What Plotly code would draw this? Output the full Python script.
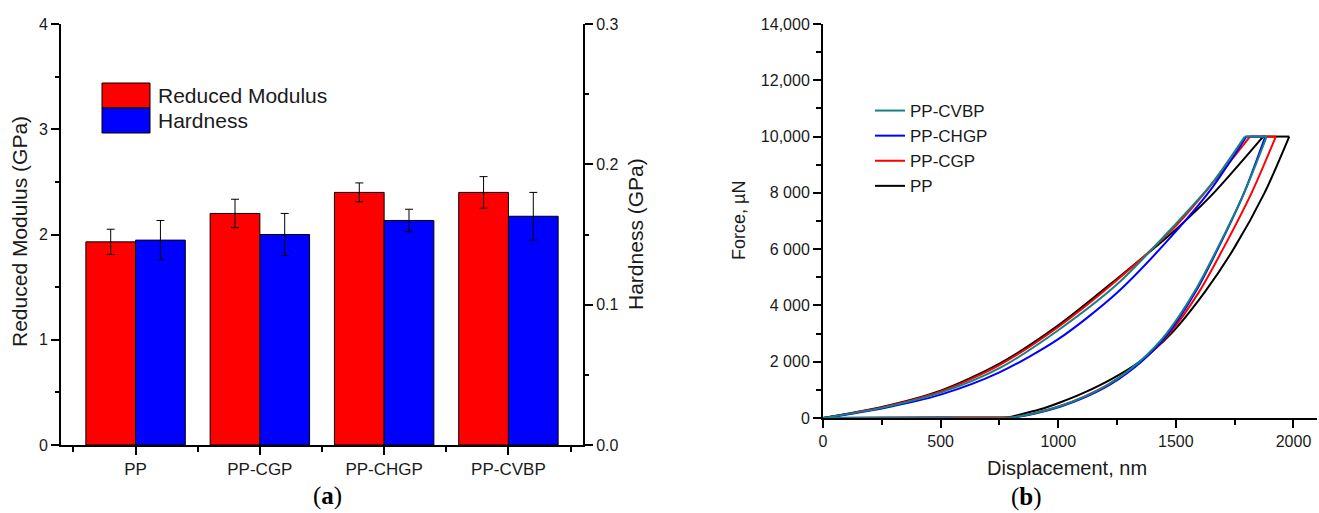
import plotly.graph_objects as go

# ---------------- data ----------------
# (a) nanoindentation results per sample
categories = ["PP", "PP-CGP", "PP-CHGP", "PP-CVBP"]
reduced_modulus = [1.93, 2.20, 2.40, 2.40]          # GPa
reduced_modulus_err = [0.12, 0.135, 0.09, 0.15]
hardness = [0.146, 0.150, 0.160, 0.163]             # GPa
hardness_err = [0.014, 0.015, 0.008, 0.017]

# (b) load–displacement curves (displacement nm, force µN)
pp_load_d = [0, 250, 500, 750, 1000, 1250, 1500, 1650, 1871]
pp_load_f = [0, 390, 970, 1930, 3290, 4950, 6700, 7900, 10000]
pp_unload_d = [1982, 1877, 1745, 1625, 1480, 1345, 1230, 1110, 1010, 920, 835, 785, 500, 250, 0]
pp_unload_f = [10000, 8000, 6000, 4500, 3000, 2000, 1400, 900, 560, 300, 120, 30, 12, 5, 0]

cgp_load_d = [0, 250, 500, 750, 1000, 1250, 1500, 1650, 1815]
cgp_load_f = [0, 370, 940, 1880, 3235, 4900, 6830, 8280, 10000]
cgp_unload_d = [1925, 1822, 1700, 1600, 1472, 1350, 1215, 1108, 998, 888, 818, 790, 600, 300, 0]
cgp_unload_f = [10000, 8000, 6000, 4500, 3000, 2000, 1200, 750, 400, 150, 40, 30, 25, 12, 0]

chgp_load_d = [0, 250, 500, 750, 1000, 1250, 1500, 1650, 1800]
chgp_load_f = [0, 340, 830, 1620, 2800, 4450, 6630, 8130, 10000]
chgp_unload_d = [1880, 1790, 1678, 1585, 1467, 1353, 1223, 1118, 1008, 898, 828, 800, 500, 0]
chgp_unload_f = [10000, 8000, 6000, 4500, 3000, 2000, 1200, 750, 400, 150, 40, 10, 5, 0]

cvbp_load_d = [0, 250, 500, 750, 1000, 1250, 1500, 1650, 1793]
cvbp_load_f = [0, 360, 900, 1770, 3120, 4750, 6900, 8300, 10000]
cvbp_unload_d = [1886, 1790, 1675, 1580, 1460, 1345, 1215, 1110, 1000, 890, 820, 795, 500, 0]
cvbp_unload_f = [10000, 8000, 6000, 4500, 3000, 2000, 1200, 750, 400, 150, 40, 10, 5, 0]

force_tickvals = [0, 2000, 4000, 6000, 8000, 10000, 12000, 14000]
force_ticktext = ["0", "2 000", "4 000", "6 000", "8 000", "10,000", "12,000", "14,000"]
disp_tickvals = [0, 500, 1000, 1500, 2000]

# ---------------- styling helpers ----------------
W, H = 1319, 513
FONT = "Liberation Sans, Arial, sans-serif"
SERIF = "Liberation Serif, Times New Roman, serif"
INK = "#1a1a1a"


def px_x(x):
    return x / W


def px_y(y):
    return 1 - y / H


fig = go.Figure()

# ---------------- (a) bar chart ----------------
pos = list(range(len(categories)))
fig.add_trace(go.Bar(
    x=pos, y=reduced_modulus, width=0.4, offset=-0.4,
    marker=dict(color="#ff0000", line=dict(color="black", width=1)),
    error_y=dict(type="data", array=reduced_modulus_err, color="black", thickness=1, width=4),
    name="Reduced Modulus", showlegend=False, xaxis="x", yaxis="y",
))
fig.add_trace(go.Bar(
    x=pos, y=hardness, width=0.4, offset=0.0,
    marker=dict(color="#0000ff", line=dict(color="black", width=1)),
    error_y=dict(type="data", array=hardness_err, color="black", thickness=1, width=4),
    name="Hardness", showlegend=False, xaxis="x", yaxis="y2",
))

# ---------------- (b) load-displacement curves ----------------
def loop_path(load_d, load_f, unload_d, unload_f):
    xs = load_d + [None] + [load_d[-1], unload_d[0]] + [None] + unload_d
    ys = load_f + [None] + [load_f[-1], unload_f[0]] + [None] + unload_f
    return xs, ys


series = [
    ("PP", "#000000", pp_load_d, pp_load_f, pp_unload_d, pp_unload_f),
    ("PP-CGP", "#ff0000", cgp_load_d, cgp_load_f, cgp_unload_d, cgp_unload_f),
    ("PP-CHGP", "#0000ff", chgp_load_d, chgp_load_f, chgp_unload_d, chgp_unload_f),
    ("PP-CVBP", "#178080", cvbp_load_d, cvbp_load_f, cvbp_unload_d, cvbp_unload_f),
]
for name, color, ld, lf, ud, uf in series:
    xs, ys = loop_path(ld, lf, ud, uf)
    fig.add_trace(go.Scatter(
        x=xs, y=ys, mode="lines", name=name,
        line=dict(color=color, width=2, shape="spline", smoothing=0.8),
        connectgaps=False, xaxis="x2", yaxis="y3",
    ))

# ---------------- axes ----------------
axis_common = dict(
    showline=True, linecolor="black", linewidth=2, ticks="outside",
    tickcolor="black", tickwidth=1.5, ticklen=8, showgrid=False, zeroline=False,
    automargin=False, tickfont=dict(family=FONT, size=16, color=INK),
)

fig.update_layout(
    width=W, height=H, margin=dict(l=0, r=0, t=0, b=0, pad=0), autosize=False,
    paper_bgcolor="white", plot_bgcolor="white",
    barmode="overlay", showlegend=True,
    xaxis=dict(
        **{**axis_common, "tickfont": dict(family=FONT, size=17, color=INK)},
        domain=[px_x(61), px_x(583)], anchor="y", range=[-0.6, 3.6],
        tickmode="array", tickvals=pos, ticktext=categories,
        minor=dict(tickmode="array", tickvals=[-0.5, 0.5, 1.5, 2.5, 3.5],
                   ticks="outside", ticklen=5, tickwidth=1.5, tickcolor="black"),
    ),
    yaxis=dict(
        **axis_common, domain=[px_y(445), px_y(24)], anchor="x",
        range=[0, 4], dtick=1, tick0=0,
        minor=dict(dtick=0.5, ticks="outside", ticklen=4, tickwidth=1.5, tickcolor="black"),
    ),
    yaxis2=dict(
        **axis_common, overlaying="y", side="right", anchor="x",
        range=[0, 0.3], dtick=0.1, tick0=0, tickformat=".1f",
        minor=dict(dtick=0.05, ticks="outside", ticklen=4, tickwidth=1.5, tickcolor="black"),
    ),
    xaxis2=dict(
        **axis_common, domain=[px_x(823), px_x(1317)], anchor="y3",
        range=[0, 2100], tickmode="array", tickvals=disp_tickvals,
        minor=dict(dtick=250, ticks="outside", ticklen=5, tickwidth=1.5, tickcolor="black"),
    ),
    yaxis3=dict(
        **axis_common, domain=[px_y(418), px_y(24)], anchor="x2",
        range=[0, 14000], tickmode="array", tickvals=force_tickvals, ticktext=force_ticktext,
        minor=dict(dtick=1000, ticks="outside", ticklen=5, tickwidth=1.5, tickcolor="black"),
    ),
    legend=dict(
        x=px_x(870), y=px_y(93), xanchor="left", yanchor="top",
        traceorder="reversed", bgcolor="rgba(0,0,0,0)", borderwidth=0,
        font=dict(family=FONT, size=17, color=INK), tracegroupgap=0,
    ),
)

# ---------------- legend of (a) ----------------
shapes = []
for (top, bottom, color) in [(83, 108, "#ff0000"), (108, 133, "#0000ff")]:
    shapes.append(dict(
        type="rect", xref="paper", yref="paper",
        x0=px_x(102), x1=px_x(150), y0=px_y(bottom), y1=px_y(top),
        fillcolor=color, line=dict(color="black", width=1),
    ))
fig.update_layout(shapes=shapes)

annotations = [
    dict(text="Reduced Modulus", x=px_x(156), y=px_y(95.5), xanchor="left", yanchor="middle",
         font=dict(family=FONT, size=21, color=INK)),
    dict(text="Hardness", x=px_x(156), y=px_y(120.5), xanchor="left", yanchor="middle",
         font=dict(family=FONT, size=21, color=INK)),
    # axis titles
    dict(text="Reduced Modulus (GPa)", x=px_x(19), y=px_y(232), textangle=-90,
         xanchor="center", yanchor="middle", font=dict(family=FONT, size=21, color=INK)),
    dict(text="Hardness (GPa)", x=px_x(635), y=px_y(234), textangle=-90,
         xanchor="center", yanchor="middle", font=dict(family=FONT, size=21, color=INK)),
    dict(text="Force, µN", x=px_x(739), y=px_y(221), textangle=-90,
         xanchor="center", yanchor="middle", font=dict(family=FONT, size=18, color=INK)),
    dict(text="Displacement, nm", x=px_x(1067), y=px_y(468),
         xanchor="center", yanchor="middle", font=dict(family=FONT, size=20, color=INK)),
    # panel labels
    dict(text="(<b>a</b>)", x=px_x(327), y=px_y(496), xanchor="center", yanchor="middle",
         font=dict(family=SERIF, size=25, color="black")),
    dict(text="(<b>b</b>)", x=px_x(1026), y=px_y(497), xanchor="center", yanchor="middle",
         font=dict(family=SERIF, size=25, color="black")),
]
for a in annotations:
    a.update(xref="paper", yref="paper", showarrow=False)
fig.update_layout(annotations=annotations)

fig.write_html("out.html")
